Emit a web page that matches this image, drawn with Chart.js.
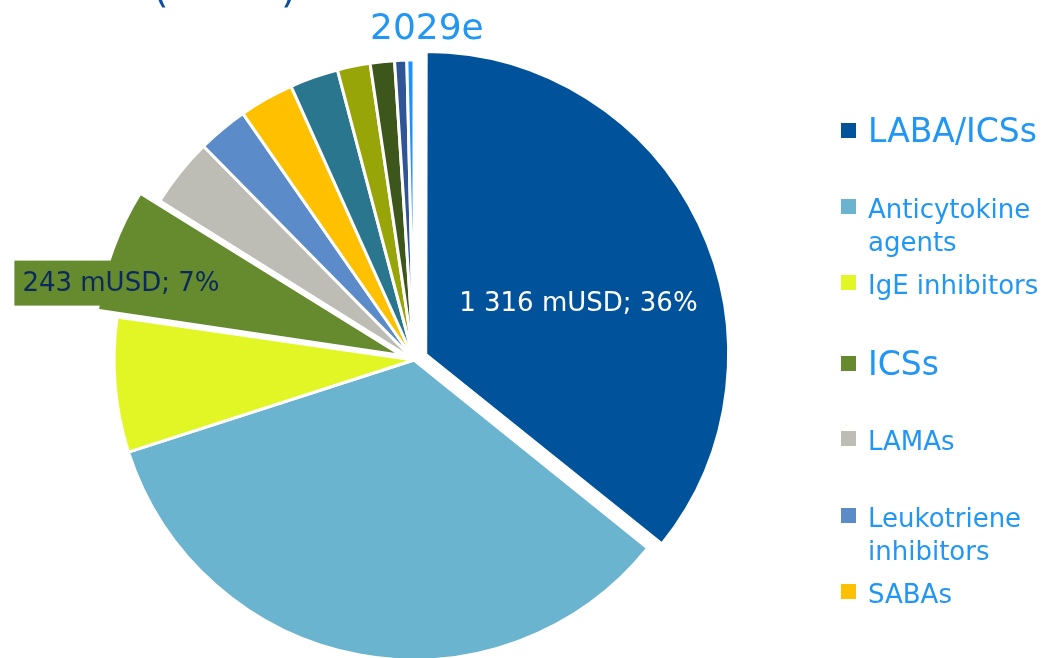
<!DOCTYPE html>
<html>
<head>
<meta charset="utf-8">
<script src="https://cdn.jsdelivr.net/npm/chart.js"></script>
<style>
  html, body { margin: 0; padding: 0; background: #fff; overflow: hidden; }
  #wrap { position: relative; width: 1054px; height: 658px; }
</style>
</head>
<body>
<div id="wrap"><canvas id="market-chart" width="1054" height="658"></canvas></div>
<script>
// Market split by drug class, 2029e (mUSD)
const yearLabel = '2029e';
const categories = [
  'LABA/ICSs', 'Anticytokine agents', 'IgE inhibitors', 'ICSs', 'LAMAs',
  'Leukotriene inhibitors', 'SABAs', 'Other class 1', 'Other class 2',
  'Other class 3', 'Other class 4', 'Other class 5'
];
const salesValues = [1316, 1259, 267, 243, 137, 100, 108, 96, 65, 48, 24, 14];
const sliceColors = [
  '#00539b', '#6bb4d0', '#e2f626', '#668a2e', '#bdbdb6',
  '#5b8bc9', '#ffc000', '#2a768f', '#97a508', '#3c561c',
  '#2f5597', '#1e90ff'
];
const explodedSlices = [0, 3]; // LABA/ICSs and ICSs pulled out
const labelledSlices = [0, 3];  // slices with a value label
const legendCount = 7;          // the rest of the legend is below the page

const FONT = '"DejaVu Sans", Verdana, sans-serif';
const TEXT_BLUE = '#2196f3';

// label placement, relative to each slice's mid angle
const labelStyle = {
  0: { turn: 0.113, dist: 0.58, color: '#ffffff', box: false },
  3: { turn: -0.095, dist: 1.01, color: '#0b2a5b', box: true }
};

// legend layout
const legendX = 841;
const legendBaselines = [142, 218, 294, 375, 450, 527, 603];
const legendSizes = [33, 26, 26, 33, 26, 26, 26];

function formatMUSD(v) {
  return String(v).replace(/\B(?=(\d{3})+(?!\d))/g, ' ');
}

const sliceLabels = {
  id: 'sliceLabels',
  afterDatasetsDraw(chart) {
    const ctx = chart.ctx;
    const meta = chart.getDatasetMeta(0);
    const total = salesValues.reduce((a, b) => a + b, 0);
    ctx.save();
    ctx.font = '26px ' + FONT;
    ctx.textAlign = 'center';
    ctx.textBaseline = 'middle';
    labelledSlices.forEach(function(i) {
      const st = labelStyle[i];
      const p = meta.data[i].getProps(['x', 'y', 'startAngle', 'endAngle', 'outerRadius']);
      const a = (p.startAngle + p.endAngle) / 2 + st.turn;
      const x = p.x + Math.cos(a) * p.outerRadius * st.dist;
      const y = p.y + Math.sin(a) * p.outerRadius * st.dist;
      const text = formatMUSD(salesValues[i]) + ' mUSD; ' + Math.round(salesValues[i] / total * 100) + '%';
      if (st.box) {
        const w = ctx.measureText(text).width;
        ctx.fillStyle = sliceColors[i];
        ctx.fillRect(x - w / 2 - 8, y - 22.5, w + 16, 45);
      }
      ctx.fillStyle = st.color;
      ctx.fillText(text, x, y + 1);
    });
    ctx.restore();
  }
};

const sideText = {
  id: 'sideText',
  afterDraw(chart) {
    const ctx = chart.ctx;
    ctx.save();
    // bottom of the cut-off heading
    ctx.fillStyle = '#0d4f9c';
    ctx.font = '40px ' + FONT;
    ctx.textBaseline = 'alphabetic';
    ctx.fillText('(', 153, 2);
    ctx.fillText(')', 281, 2);
    // year
    ctx.fillStyle = TEXT_BLUE;
    ctx.font = '36px ' + FONT;
    ctx.fillText(yearLabel, 370, 39);
    // legend
    for (let i = 0; i < legendCount; i++) {
      const base = legendBaselines[i];
      ctx.fillStyle = sliceColors[i];
      ctx.fillRect(legendX, base - 19, 15, 15);
      ctx.fillStyle = TEXT_BLUE;
      ctx.font = legendSizes[i] + 'px ' + FONT;
      const words = categories[i].split(' ');
      let line = '';
      let y = base;
      words.forEach(function(w) {
        const test = line ? line + ' ' + w : w;
        if (line && ctx.measureText(test).width > 180) {
          ctx.fillText(line, legendX + 27, y);
          line = w;
          y += 33;
        } else {
          line = test;
        }
      });
      ctx.fillText(line, legendX + 27, y);
    }
    ctx.restore();
  }
};

new Chart(document.getElementById('market-chart'), {
  type: 'pie',
  data: {
    labels: categories,
    datasets: [{
      data: salesValues,
      backgroundColor: sliceColors,
      borderColor: '#ffffff',
      borderWidth: 3,
      offset: salesValues.map((v, i) => explodedSlices.includes(i) ? 52 : 0),
      radius: 300,
      clip: false
    }]
  },
  options: {
    responsive: false,
    animation: false,
    layout: { padding: { left: 0, right: 226, top: 62, bottom: 0 } },
    plugins: {
      legend: { display: false },
      tooltip: { enabled: false }
    },
    events: []
  },
  plugins: [sliceLabels, sideText]
});
</script>
</body>
</html>
